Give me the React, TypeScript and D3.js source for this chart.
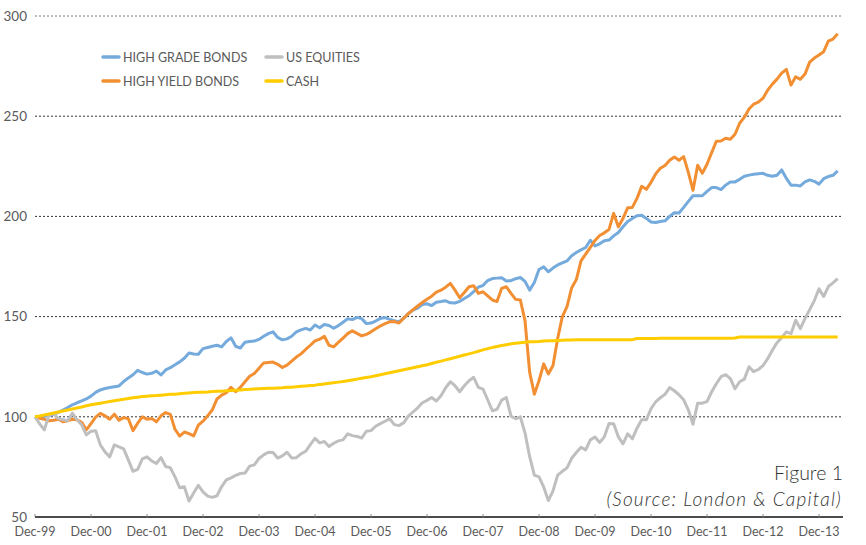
import React from "react";
import * as d3 from "d3";

// monthly index values, Dec-99 = 100 (month 0 = Dec-99)
const highGrade = [
  100, 99.8, 100.3, 100.6, 101.3, 102.2, 103.4, 104.6, 106, 107, 107.9, 108.9,
  110.3, 112.2, 113.4, 114.1, 114.6, 115, 115.4, 117.6, 119.4, 121, 123.2, 122.1,
  121.3, 121.7, 122.8, 120.9, 123.4, 124.5, 126, 127.4, 129.2, 131.8, 131.3, 131.2,
  134, 134.6, 135.2, 135.7, 134.9, 137.6, 139.4, 135.2, 134.3, 137.2, 137.6, 137.8,
  138.6, 140.2, 141.5, 142.4, 139.6, 138.4, 138.9, 140.2, 142.4, 143.4, 144.1, 143.3,
  145.8, 144.4, 146.1, 145.6, 144.2, 145.5, 147.2, 148.9, 148.5, 149.6, 149, 146.5,
  146.8, 147.8, 149.1, 149.5, 148.6, 147.9, 147.5, 149.2, 151.5, 153.3, 154.2, 156,
  156.4, 155.5, 157.2, 157.5, 157.9, 156.9, 156.8, 157.6, 159, 160.4, 162.5, 164.7,
  165.5, 168, 169, 169.2, 169.4, 167.8, 167.9, 168.9, 169.5, 167.6, 163.2, 167,
  173.5, 174.8, 172.4, 174.2, 175.8, 176.8, 177.8, 180.4, 182, 183.3, 184.5, 188.1,
  185.3, 186.3, 187.8, 188.2, 190.3, 192, 194.8, 197.5, 199, 200.3, 200.6, 199,
  197.2, 197, 197.5, 197.8, 200, 201.8, 201.7, 204.5, 207.5, 210.3, 210.3, 210.3,
  212.5, 214.4, 214.4, 213.4, 215.6, 217.2, 217.2, 218.5, 220, 220.6, 221, 221.3,
  221.5, 220.5, 220, 220.5, 223.2, 219, 215.6, 215.6, 215.2, 217.2, 218.2, 217.5,
  216.1, 218.8, 219.9, 220.5, 222.7,
];

const highYield = [
  100, 99.3, 98.8, 98, 98.3, 98.8, 97.5, 98, 98.8, 98.5, 97.3, 93.5,
  96.6, 99.8, 101.7, 100.5, 98.8, 101.3, 98.3, 99.6, 99, 93.1, 96.8, 100,
  98.8, 99.2, 97.5, 100.5, 102.1, 101.2, 93.8, 90.4, 92.4, 91.6, 90.5, 95.8,
  97.8, 100.5, 103.5, 108.9, 110.8, 112, 114.7, 112.5, 114.7, 117.5, 120.2, 121.6,
  124.2, 126.9, 127.1, 127.3, 126.2, 124.6, 125.8, 127.8, 129.8, 131.4, 133.6, 135.7,
  137.9, 138.7, 140.2, 135.7, 134.9, 137.1, 139.3, 141.5, 142.9, 141.6, 140.4, 141.1,
  142.4, 143.9, 145.3, 146.5, 147.4, 147.5, 146.8, 149.2, 151.5, 153.4, 155.3, 157,
  158.7, 160.2, 162.2, 163.2, 164.7, 166.6, 163.2, 159.4, 162, 164.9, 165.4, 161.6,
  162.4, 160.3, 158.3, 157.5, 164.1, 164.9, 161.6, 158.6, 158.3, 148, 122.2, 111.3,
  118, 126.4, 121.4, 125.6, 139.1, 150, 155, 164.3, 168.5, 177.8, 181.2, 184.5,
  188, 190.5, 191.8, 193.5, 201.5, 194.8, 199, 204.3, 204.5, 209, 215, 213.5,
  217, 221.2, 224, 225.4, 228, 229.6, 228, 229.8, 222, 213, 225.5, 221.5,
  226, 231.8, 237.5, 237.6, 239, 238.5, 241, 246.5, 249.5, 253.6, 256, 257,
  259, 263, 266, 268.5, 271.5, 273.4, 265.5, 269.7, 268.4, 271, 277, 279,
  280.5, 282.2, 287.5, 288.5, 291.1,
];

const usEquities = [
  100, 96.5, 93.5, 101, 101.5, 99, 98.5, 98, 101.8, 98.5, 96, 91,
  92.8, 93, 86, 82.5, 80, 86, 85, 84, 78.5, 72.8, 73.8, 79,
  80, 78, 76.7, 79.6, 75.2, 74.6, 70, 64.6, 65.1, 58, 62, 65.8,
  62.5, 60.4, 59.8, 60.6, 65.2, 68.5, 69.5, 70.8, 71.7, 71.9, 75.4, 76,
  79.2, 81, 82.3, 82.2, 79.4, 80.5, 82.3, 79.5, 79.6, 81.5, 82.8, 86.1,
  89.2, 87, 87.7, 85.2, 86.8, 88, 88.5, 91.5, 90.6, 90.2, 89.4, 92.8,
  93.1, 95.3, 96.6, 97.8, 99, 96.1, 95.6, 97, 100.3, 102.4, 104.5, 107,
  108.2, 109.6, 107.9, 110.5, 114.5, 117.5, 115.5, 112.5, 115.5, 118, 119.7, 114.7,
  113.8, 108.5, 103, 103.7, 108.3, 109.6, 100.3, 99, 100, 92, 80.1, 70.9,
  70, 65, 58.2, 63, 70.9, 72.8, 74.5, 79.3, 82.2, 84.8, 83.5, 88.5,
  89.9, 87.2, 90, 96.6, 96.5, 90, 86.5, 91.5, 89, 94.3, 98.5, 98.5,
  104, 107.5, 109.5, 111.2, 114.6, 113, 111, 108.5, 103.5, 96.3, 106.8, 106.8,
  107.6, 112.5, 116.5, 120, 121, 119, 114, 117.5, 118.8, 125, 122.5, 123.6,
  125.5, 129, 133.2, 137, 139.5, 142.4, 141.5, 148.2, 144, 149, 153.5, 158,
  163.9, 160, 165, 166.8, 168.9,
];

const cash = [
  100, 100.4, 100.9, 101.4, 101.9, 102.4, 102.9, 103.4, 103.9, 104.4, 104.9, 105.5,
  106, 106.4, 106.8, 107.2, 107.6, 108, 108.4, 108.8, 109.1, 109.5, 109.8, 110.1,
  110.3, 110.5, 110.6, 110.8, 111, 111.2, 111.3, 111.5, 111.7, 111.9, 112.1, 112.2,
  112.3, 112.4, 112.6, 112.7, 112.8, 113, 113.1, 113.3, 113.4, 113.6, 113.7, 113.9,
  114, 114.1, 114.2, 114.3, 114.4, 114.5, 114.7, 114.8, 115, 115.2, 115.4, 115.6,
  115.8, 116.1, 116.4, 116.7, 117, 117.3, 117.6, 118, 118.4, 118.8, 119.2, 119.6,
  120, 120.5, 121, 121.5, 122, 122.5, 123, 123.5, 124, 124.5, 125, 125.5,
  126, 126.6, 127.2, 127.8, 128.4, 129, 129.6, 130.2, 130.8, 131.4, 132, 132.7,
  133.4, 134, 134.6, 135.1, 135.6, 136, 136.4, 136.7, 137, 137.2, 137.4, 137.5,
  137.6, 137.8, 137.9, 138, 138.1, 138.2, 138.3, 138.3, 138.4, 138.4, 138.4, 138.4,
  138.4, 138.4, 138.4, 138.4, 138.4, 138.4, 138.4, 138.4, 138.5, 139.1, 139.1, 139.1,
  139.1, 139.1, 139.2, 139.2, 139.2, 139.2, 139.2, 139.2, 139.2, 139.2, 139.2, 139.2,
  139.2, 139.2, 139.2, 139.2, 139.2, 139.2, 139.3, 139.8, 139.8, 139.8, 139.8, 139.8,
  139.8, 139.8, 139.8, 139.8, 139.8, 139.8, 139.8, 139.8, 139.8, 139.8, 139.8, 139.8,
  139.8, 139.8, 139.8, 139.8, 139.8,
];

const tickLabels = [
  "Dec-99", "Dec-00", "Dec-01", "Dec-02", "Dec-03", "Dec-04", "Dec-05",
  "Dec-06", "Dec-07", "Dec-08", "Dec-09", "Dec-10", "Dec-11", "Dec-12", "Dec-13",
];
const yTicks = [50, 100, 150, 200, 250, 300];

const series = [
  { name: "HIGH GRADE BONDS", values: highGrade, color: "#75aadc" },
  { name: "HIGH YIELD BONDS", values: highYield, color: "#f28f33" },
  { name: "US EQUITIES", values: usEquities, color: "#bfbfbf" },
  { name: "CASH", values: cash, color: "#ffcc00" },
];

const font = "Lato, 'Open Sans', sans-serif";

export default function App() {
  const width = 866;
  const height = 545;

  const x = d3.scaleLinear().domain([0, 168]).range([35, 819]);
  const y = d3.scaleLinear().domain([50, 300]).range([517, 16]);

  const line = d3
    .line<number>()
    .x((d, i) => x(i))
    .y((d) => y(d));

  // legend: two columns, series order goes down each column
  const legendPos = [
    [103, 57],
    [103, 81],
    [266, 57],
    [266, 81],
  ];

  return (
    <svg
      width={width}
      height={height}
      style={{ position: "absolute", left: 0, top: 0, background: "#fff" }}
      fontFamily={font}
    >
      {yTicks
        .filter((t) => t > 50)
        .map((t) => (
          <line
            key={t}
            x1={35}
            x2={843}
            y1={y(t)}
            y2={y(t)}
            stroke={t === 300 ? "#777" : "#333"}
            strokeWidth={1}
            strokeDasharray="2,2"
          />
        ))}
      {yTicks.map((t) => (
        <text
          key={t}
          x={27}
          y={y(t)}
          dy="0.35em"
          textAnchor="end"
          fontSize={13.5}
          fill="#5a5a5a"
        >
          {t}
        </text>
      ))}

      <line x1={35} x2={843} y1={y(50)} y2={y(50)} stroke="#111" strokeWidth={1.5} />
      {tickLabels.map((lab, i) => (
        <g key={lab}>
          <line
            x1={x(i * 12)}
            x2={x(i * 12)}
            y1={y(50) - 3}
            y2={y(50)}
            stroke="#888"
          />
          <text
            x={x(i * 12)}
            y={536}
            textAnchor="middle"
            fontSize={12.5}
            fill="#5a5a5a"
          >
            {lab}
          </text>
        </g>
      ))}

      {series.map((s) => (
        <path
          key={s.name}
          d={line(s.values) || ""}
          fill="none"
          stroke={s.color}
          strokeWidth={3}
          strokeLinejoin="round"
        />
      ))}

      {series.map((s, i) => (
        <g key={s.name} transform={`translate(${legendPos[i][0]},${legendPos[i][1]})`}>
          <line x1={0} x2={16} y1={0} y2={0} stroke={s.color} strokeWidth={3.5} strokeLinecap="round" />
          <text x={20} y={0} dy="0.36em" fontSize={12.5} fill="#5a5a5a">
            {s.name}
          </text>
        </g>
      ))}

      <text x={843} y={480} textAnchor="end" fontSize={19.5} fontWeight={300} fill="#333">
        Figure 1
      </text>
      <text
        x={842}
        y={506}
        textAnchor="end"
        fontSize={19}
        fontWeight={300}
        fontStyle="italic"
        letterSpacing={1.2}
        fill="#333"
      >
        (Source: London &amp; Capital)
      </text>
    </svg>
  );
}
